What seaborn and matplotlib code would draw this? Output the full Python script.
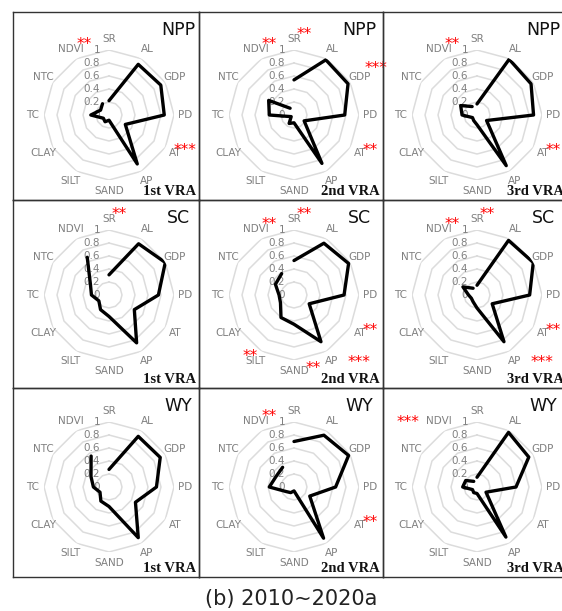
import numpy as np
import pandas as pd
import matplotlib
matplotlib.use("Agg")
import matplotlib.pyplot as plt
import seaborn as sns

sns.set_style("white")
plt.rcParams["font.family"] = ["DejaVu Sans"]

# Factor axes, clockwise from the top
factors = ["SR", "AL", "GDP", "PD", "AT", "AP", "SAND", "SILT", "CLAY", "TC", "NTC", "NDVI"]
ring_values = [0.2, 0.4, 0.6, 0.8, 1.0]
tick_labels = ["0", "0.2", "0.4", "0.6", "0.8", "1"]

# Normalised contribution of each factor (rows: NPP, SC, WY; columns: 1st-3rd VRA)
npp_1st = [0.22, 0.90, 0.92, 0.85, 0.29, 0.87, 0.08, 0.12, 0.10, 0.28, 0.15, 0.20]
npp_2nd = [0.54, 0.98, 0.96, 0.78, 0.18, 0.86, 0.12, 0.15, 0.05, 0.38, 0.45, 0.12]
npp_3rd = [0.17, 0.99, 0.96, 0.87, 0.17, 0.90, 0.15, 0.10, 0.08, 0.23, 0.29, 0.15]
sc_1st = [0.31, 0.91, 1.00, 0.76, 0.45, 0.85, 0.33, 0.26, 0.18, 0.27, 0.33, 0.67]
sc_2nd = [0.53, 0.92, 0.97, 0.77, 0.27, 0.83, 0.45, 0.40, 0.24, 0.23, 0.33, 0.38]
sc_3rd = [0.15, 0.97, 1.00, 0.81, 0.27, 0.83, 0.20, 0.12, 0.10, 0.13, 0.25, 0.12]
wy_1st = [0.27, 0.90, 0.91, 0.73, 0.47, 0.90, 0.30, 0.25, 0.16, 0.24, 0.32, 0.55]
wy_2nd = [0.70, 0.92, 0.97, 0.64, 0.28, 0.91, 0.06, 0.10, 0.14, 0.38, 0.32, 0.35]
wy_3rd = [0.15, 0.97, 0.92, 0.60, 0.16, 0.89, 0.10, 0.10, 0.08, 0.22, 0.20, 0.10]

services = ["NPP", "SC", "WY"]
vra_labels = ["1st VRA", "2nd VRA", "3rd VRA"]

# Significance marks per panel: (factor, stars)
npp_1st_sig = [("NDVI", "**"), ("AT", "***")]
npp_2nd_sig = [("SR", "**"), ("NDVI", "**"), ("GDP", "***"), ("AT", "**")]
npp_3rd_sig = [("NDVI", "**"), ("AT", "**")]
sc_1st_sig = [("SR", "**")]
sc_2nd_sig = [("SR", "**"), ("NDVI", "**"), ("AT", "**"), ("AP", "***"), ("SILT", "**"), ("SAND", "**")]
sc_3rd_sig = [("SR", "**"), ("NDVI", "**"), ("AT", "**"), ("AP", "***")]
wy_1st_sig = []
wy_2nd_sig = [("NDVI", "**"), ("AT", "**")]
wy_3rd_sig = [("NDVI", "***")]

values = [[npp_1st, npp_2nd, npp_3rd], [sc_1st, sc_2nd, sc_3rd], [wy_1st, wy_2nd, wy_3rd]]
sigs = [[npp_1st_sig, npp_2nd_sig, npp_3rd_sig],
        [sc_1st_sig, sc_2nd_sig, sc_3rd_sig],
        [wy_1st_sig, wy_2nd_sig, wy_3rd_sig]]

# Star placement relative to the factor label (pixels)
star_offset = {"SR": (10, 4), "NDVI": (13, 5), "GDP": (16, 8), "AT": (10, 3),
               "AP": (27, -2), "SILT": (-6, 4), "SAND": (19, 3)}
star_offset_left = {"NDVI": (-31, -1)}

W, H = 562, 611
fig = plt.figure(figsize=(W / 100, H / 100), dpi=100)


def rect(x0, y0, w, h):
    return [x0 / W, 1 - (y0 + h) / H, w / W, h / H]


col_x = [13, 199, 383]
col_w = [186, 184, 184]
row_y = [12, 200, 388]
row_h = [188, 188, 189]
cx_off = [96, 95, 94]
cy_off = [103, 95, 99]
title_x = [165, 160, 160]
R = 65  # pixel radius of the unit ring

theta = np.linspace(0, 2 * np.pi, len(factors), endpoint=False)
theta_closed = np.append(theta, theta[0])
grey = "#808080"

for i in range(3):
    for j in range(3):
        # panel frame
        pax = fig.add_axes(rect(col_x[j], row_y[i], col_w[j], row_h[i]))
        pax.set_facecolor("none")
        pax.set_xticks([])
        pax.set_yticks([])
        pax.set_xlim(0, col_w[j])
        pax.set_ylim(row_h[i], 0)
        for sp in pax.spines.values():
            sp.set_color("#333333")
            sp.set_linewidth(1.0)
        pax.text(title_x[j], 18, services[i], ha="center", va="center", fontsize=12.5,
                 color="#111111")
        pax.text(col_w[j] - 3, row_h[i] - 5, vra_labels[j], ha="right", va="baseline",
                 fontsize=10.5, fontweight="bold", family="Liberation Serif", color="#111111")

        # radar
        cx = col_x[j] + cx_off[j]
        cy = row_y[i] + cy_off[i]
        ax = fig.add_axes(rect(cx - R, cy - R, 2 * R, 2 * R), projection="polar")
        ax.set_theta_offset(np.pi / 2)
        ax.set_theta_direction(-1)
        ax.set_ylim(0, 1)
        ax.grid(False)
        ax.set_xticks([])
        ax.set_yticks([])
        ax.spines["polar"].set_visible(False)
        ax.patch.set_visible(False)

        for rv in ring_values:
            ax.plot(theta_closed, np.full(theta_closed.shape, rv), color="#dcdcdc",
                    lw=1.1, zorder=1)

        for k, lab in enumerate(tick_labels):
            ax.annotate(lab, xy=(0, k * 0.2), xytext=(-9, 0), textcoords="offset pixels",
                        ha="right", va="center", fontsize=7.5, color=grey,
                        annotation_clip=False, zorder=2)

        df = pd.DataFrame({"theta": theta_closed,
                           "r": np.append(values[i][j], values[i][j][0])})
        sns.lineplot(data=df, x="theta", y="r", sort=False, ax=ax, color="black",
                     lw=2.4, zorder=3)
        ax.set_xlabel("")
        ax.set_ylabel("")
        ax.set_ylim(0, 1)

        for t, f in zip(theta, factors):
            ax.text(t, 1.17, f, ha="center", va="center", fontsize=7.5, color=grey)

        for f, stars in sigs[i][j]:
            t = theta[factors.index(f)]
            if len(stars) == 3 and f in star_offset_left:
                off = star_offset_left[f]
            else:
                off = star_offset[f]
            ax.annotate(stars, xy=(t, 1.17), xytext=off, textcoords="offset pixels",
                        ha="center", va="center", fontsize=11, color="#ff0000",
                        annotation_clip=False, zorder=4)

fig.text(291 / W, 1 - 599 / H, "(b) 2010~2020a", ha="center", va="center",
         fontsize=15, color="#222222")

fig.savefig("out.png", dpi=100)
